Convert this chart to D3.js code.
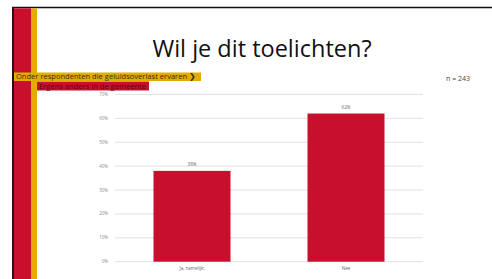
<!DOCTYPE html>
<html>
<head>
<meta charset="utf-8">
<script src="https://cdn.jsdelivr.net/npm/d3@7"></script>
<style>
  html, body { margin: 0; padding: 0; background: #fff; }
  svg { display: block; font-family: "Open Sans", "Liberation Sans", sans-serif; }
</style>
</head>
<body>
<div id="chart"></div>
<script>
// Chart data
const categories = ['Ja, namelijk:', 'Nee'];
const percentages = [38, 62];
const yTicks = [0, 10, 20, 30, 40, 50, 60, 70];
const titleText = 'Wil je dit toelichten?';
const filterLabel = 'Onder respondenten die geluidsoverlast ervaren';
const subFilterLabel = 'Ergens anders in de gemeente';
const sampleLabel = 'n = 243';

const width = 492;
const height = 279;
const red = '#c8102e';
const yellow = '#e2ad00';

const svg = d3.select('#chart')
    .append('svg')
    .attr('width', width)
    .attr('height', height);

// Slide frame
svg.append('rect')
    .attr('x', 0).attr('y', 0)
    .attr('width', width).attr('height', height)
    .attr('fill', '#fff');

svg.append('line')
    .attr('x1', 12).attr('x2', width)
    .attr('y1', 7.5).attr('y2', 7.5)
    .style('stroke', '#111')
    .style('stroke-width', 1.5);

svg.append('line')
    .attr('x1', 13).attr('x2', 13)
    .attr('y1', 7).attr('y2', height)
    .style('stroke', '#2a1010')
    .style('stroke-width', 2);

// Side stripes
svg.append('rect')
    .attr('x', 14).attr('y', 8.3)
    .attr('width', 17).attr('height', height)
    .attr('fill', red);

svg.append('rect')
    .attr('x', 31).attr('y', 8.3)
    .attr('width', 6).attr('height', height)
    .attr('fill', yellow);

// Title
svg.append('text')
    .attr('x', 262)
    .attr('y', 57)
    .attr('text-anchor', 'middle')
    .style('font-size', '23.5px')
    .style('fill', '#111')
    .text(titleText);

// Scales
const x = d3.scaleBand()
    .domain(categories)
    .range([115, 423])
    .paddingInner(0.5)
    .paddingOuter(0.25);

const y = d3.scaleLinear()
    .domain([0, 70])
    .range([261.7, 94.4]);

// Gridlines
svg.append('g')
    .selectAll('line')
    .data(yTicks)
    .enter()
    .append('line')
    .attr('x1', 115)
    .attr('x2', 423)
    .attr('y1', d => y(d))
    .attr('y2', d => y(d))
    .style('stroke', '#d9d9d9')
    .style('stroke-width', 0.8);

// Y axis labels
svg.append('g')
    .selectAll('text')
    .data(yTicks)
    .enter()
    .append('text')
    .attr('x', 108)
    .attr('y', d => y(d) + 1.5)
    .attr('text-anchor', 'end')
    .style('font-size', '4.5px')
    .style('fill', '#8c8c8c')
    .text(d => d + '%');

// Bars
svg.append('g')
    .selectAll('rect')
    .data(percentages)
    .enter()
    .append('rect')
    .attr('x', (d, i) => x(categories[i]))
    .attr('y', d => y(d))
    .attr('width', x.bandwidth())
    .attr('height', d => y(0) - y(d))
    .attr('fill', red);

// Value labels
svg.append('g')
    .selectAll('text')
    .data(percentages)
    .enter()
    .append('text')
    .attr('x', (d, i) => x(categories[i]) + x.bandwidth() / 2)
    .attr('y', d => y(d) - 5)
    .attr('text-anchor', 'middle')
    .style('font-size', '4.5px')
    .style('fill', '#666')
    .text(d => d + '%');

// Category labels
svg.append('g')
    .selectAll('text')
    .data(categories)
    .enter()
    .append('text')
    .attr('x', d => x(d) + x.bandwidth() / 2)
    .attr('y', 270)
    .attr('text-anchor', 'middle')
    .style('font-size', '4.5px')
    .style('fill', '#666')
    .text(d => d);

// Filter labels
svg.append('rect')
    .attr('x', 14).attr('y', 72.5)
    .attr('width', 187).attr('height', 8.5)
    .attr('fill', yellow);

svg.append('text')
    .attr('x', 16)
    .attr('y', 79.3)
    .attr('textLength', 180)
    .style('font-size', '7.5px')
    .style('fill', '#3a2a00')
    .text(filterLabel + ' ❯');

svg.append('rect')
    .attr('x', 37).attr('y', 81.5)
    .attr('width', 112).attr('height', 9)
    .attr('fill', red);

svg.append('text')
    .attr('x', 39)
    .attr('y', 88.7)
    .attr('textLength', 107)
    .style('font-size', '7.5px')
    .style('fill', '#5a0010')
    .text(subFilterLabel);

// Sample size
svg.append('text')
    .attr('x', 470)
    .attr('y', 81)
    .attr('text-anchor', 'end')
    .style('font-size', '7px')
    .style('fill', '#444')
    .text(sampleLabel);
</script>
</body>
</html>
